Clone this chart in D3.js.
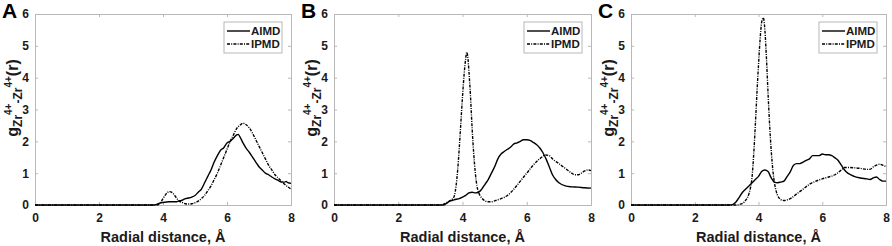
<!DOCTYPE html>
<html>
<head>
<meta charset="utf-8">
<script src="https://cdn.jsdelivr.net/npm/d3@7"></script>
<style>
  body { margin: 0; background: #fff; }
  svg { font-family: "Liberation Sans", Arial, sans-serif; font-weight: bold; }
</style>
</head>
<body>
<svg id="chart" width="892" height="246"></svg>
<script>
// radial distance r (Å) and g(r), as [r, g] pairs
var xTicks = [0, 2, 4, 6, 8];
var yTicks = [0, 1, 2, 3, 4, 5, 6];
var seriesNames = ["AIMD", "IPMD"];
var panelLabels = ["A", "B", "C"];

var aimdA = [[0,0],[3.7,0],[3.8,0.02],[3.9,0.06],[4.0,0.08],[4.2,0.1],[4.4,0.1],[4.5,0.13],[4.6,0.15],
  [4.7,0.2],[4.8,0.22],[4.9,0.25],[5.0,0.3],[5.1,0.4],[5.2,0.5],[5.3,0.7],[5.4,0.9],[5.5,1.1],[5.6,1.35],
  [5.7,1.55],[5.8,1.72],[5.9,1.8],[6.0,1.95],[6.1,2.0],[6.2,2.1],[6.3,2.2],[6.35,2.22],[6.4,2.15],[6.5,1.95],
  [6.6,1.78],[6.7,1.65],[6.8,1.5],[6.9,1.35],[7.0,1.2],[7.1,1.1],[7.2,1.0],[7.3,0.95],[7.4,0.88],[7.5,0.82],
  [7.6,0.77],[7.7,0.72],[7.8,0.72],[7.85,0.74],[7.9,0.7],[8.0,0.68]];
var ipmdA = [[0,0],[3.8,0],[3.9,0.05],[4.0,0.2],[4.1,0.35],[4.2,0.42],[4.3,0.38],[4.4,0.25],[4.5,0.13],
  [4.6,0.08],[4.7,0.04],[4.8,0.03],[4.9,0.04],[5.0,0.07],[5.1,0.12],[5.2,0.2],[5.3,0.3],[5.4,0.45],[5.5,0.6],
  [5.6,0.8],[5.7,1.0],[5.8,1.25],[5.9,1.5],[6.0,1.75],[6.1,2.0],[6.2,2.2],[6.3,2.4],[6.4,2.5],[6.5,2.57],
  [6.6,2.52],[6.7,2.42],[6.8,2.25],[6.9,2.05],[7.0,1.85],[7.1,1.65],[7.2,1.45],[7.3,1.25],[7.4,1.1],
  [7.5,0.95],[7.6,0.85],[7.7,0.75],[7.8,0.65],[7.9,0.57],[8.0,0.5]];

var aimdB = [[0,0],[3.4,0],[3.5,0.05],[3.6,0.12],[3.7,0.15],[3.8,0.18],[3.9,0.2],[4.0,0.25],[4.1,0.3],
  [4.2,0.38],[4.3,0.4],[4.4,0.38],[4.5,0.4],[4.6,0.5],[4.7,0.65],[4.8,0.8],[4.9,1.0],[5.0,1.2],[5.1,1.45],
  [5.2,1.6],[5.3,1.68],[5.4,1.75],[5.5,1.82],[5.6,1.92],[5.7,1.95],[5.8,2.0],[5.9,2.05],[6.0,2.05],[6.1,2.03],
  [6.2,1.97],[6.3,1.9],[6.4,1.8],[6.5,1.65],[6.6,1.45],[6.7,1.2],[6.8,0.95],[6.9,0.8],[7.0,0.7],[7.2,0.6],
  [7.4,0.57],[7.6,0.56],[7.8,0.54],[8.0,0.53]];
var ipmdB = [[0,0],[3.3,0],[3.4,0.02],[3.5,0.07],[3.6,0.13],[3.7,0.2],[3.75,0.3],[3.8,0.6],[3.85,1.1],
  [3.9,1.8],[3.95,2.6],[4.0,3.4],[4.05,4.1],[4.1,4.6],[4.13,4.8],[4.17,4.6],[4.2,4.2],[4.25,3.4],[4.3,2.4],
  [4.35,1.6],[4.4,1.0],[4.45,0.6],[4.5,0.4],[4.6,0.22],[4.7,0.13],[4.8,0.1],[4.9,0.1],[5.0,0.13],[5.2,0.2],
  [5.4,0.3],[5.6,0.5],[5.8,0.75],[6.0,1.0],[6.2,1.25],[6.4,1.45],[6.6,1.57],[6.7,1.55],[6.8,1.45],[7.0,1.3],
  [7.2,1.15],[7.4,1.0],[7.5,0.95],[7.6,0.95],[7.7,1.0],[7.8,1.07],[7.9,1.1],[8.0,1.08]];

var aimdC = [[0,0],[3.1,0],[3.2,0.02],[3.3,0.1],[3.4,0.25],[3.5,0.4],[3.6,0.5],[3.7,0.6],[3.8,0.7],
  [3.9,0.8],[4.0,0.9],[4.1,1.05],[4.2,1.1],[4.3,1.05],[4.4,0.85],[4.5,0.72],[4.6,0.7],[4.7,0.72],[4.8,0.75],
  [4.9,0.9],[5.0,1.05],[5.1,1.25],[5.2,1.3],[5.3,1.3],[5.4,1.35],[5.5,1.4],[5.6,1.45],[5.7,1.55],[5.8,1.55],
  [5.9,1.55],[6.0,1.6],[6.1,1.58],[6.2,1.58],[6.3,1.55],[6.4,1.48],[6.5,1.4],[6.6,1.25],[6.7,1.1],[6.8,1.0],
  [6.9,0.95],[7.0,0.9],[7.2,0.85],[7.4,0.82],[7.5,0.8],[7.6,0.85],[7.7,0.88],[7.8,0.8],[7.9,0.75],[8.0,0.75]];
var ipmdC = [[0,0],[3.3,0],[3.4,0.02],[3.5,0.05],[3.6,0.15],[3.7,0.35],[3.75,0.55],[3.8,0.9],[3.85,1.6],
  [3.9,2.5],[3.95,3.5],[4.0,4.4],[4.05,5.2],[4.1,5.75],[4.15,5.88],[4.2,5.5],[4.25,4.6],[4.3,3.5],[4.35,2.5],
  [4.4,1.7],[4.45,1.1],[4.5,0.7],[4.55,0.45],[4.6,0.3],[4.7,0.17],[4.8,0.14],[4.9,0.16],[5.0,0.2],[5.2,0.35],
  [5.4,0.5],[5.6,0.65],[5.8,0.75],[6.0,0.82],[6.2,0.88],[6.4,0.95],[6.6,1.1],[6.7,1.18],[6.8,1.18],[7.0,1.17],
  [7.2,1.15],[7.4,1.12],[7.5,1.12],[7.6,1.2],[7.7,1.25],[7.8,1.28],[7.9,1.25],[8.0,1.2]];

var panels = [
  { label: panelLabels[0], left: 35,  right: 291, aimd: aimdA, ipmd: ipmdA },
  { label: panelLabels[1], left: 334, right: 591, aimd: aimdB, ipmd: ipmdB },
  { label: panelLabels[2], left: 631, right: 886, aimd: aimdC, ipmd: ipmdC }
];

var plotTop = 14, plotBottom = 205;
var frame = "#b8b8b8", ink = "#1a1a1a";
var dashDot = "3,1.2,1,1.2";

var svg = d3.select("#chart");

panels.forEach(function(p) {
  var x = d3.scaleLinear().domain([0, 8]).range([p.left, p.right]);
  var y = d3.scaleLinear().domain([0, 6]).range([plotBottom, plotTop]);
  var g = svg.append("g");

  // axes with inward ticks, MATLAB style box
  var ax = g.append("g").attr("transform", "translate(0," + plotBottom + ")")
    .call(d3.axisBottom(x).tickValues(xTicks).tickSize(-3).tickPadding(8).tickFormat(d3.format("d")));
  var axTop = g.append("g").attr("transform", "translate(0," + plotTop + ")")
    .call(d3.axisTop(x).tickValues(xTicks).tickSize(-3).tickFormat(""));
  var ay = g.append("g").attr("transform", "translate(" + p.left + ",0)")
    .call(d3.axisLeft(y).tickValues(yTicks).tickSize(-3).tickPadding(6).tickFormat(d3.format("d")));
  var ayR = g.append("g").attr("transform", "translate(" + p.right + ",0)")
    .call(d3.axisRight(y).tickValues(yTicks).tickSize(-3).tickFormat(""));
  [ax, axTop, ay, ayR].forEach(function(a) {
    a.select(".domain").attr("stroke", frame).attr("stroke-width", 1);
    a.selectAll(".tick line").attr("stroke", frame);
    a.selectAll(".tick text").attr("fill", ink).style("font-size", "12px").style("font-weight", "bold")
      .style("font-family", "'Liberation Sans', Arial, sans-serif");
  });

  var line = d3.line()
    .x(function(d) { return x(d[0]); })
    .y(function(d) { return y(d[1]); })
    .curve(d3.curveMonotoneX);

  g.append("path").datum(p.ipmd).attr("d", line)
    .attr("fill", "none").attr("stroke", "#000").attr("stroke-width", 1.4)
    .attr("stroke-dasharray", dashDot);
  g.append("path").datum(p.aimd).attr("d", line)
    .attr("fill", "none").attr("stroke", "#000").attr("stroke-width", 1.4);

  // legend
  var lx = p.right - 67, ly = plotTop + 8;
  var leg = g.append("g").attr("transform", "translate(" + lx + "," + ly + ")");
  leg.append("rect").attr("width", 58).attr("height", 31)
    .attr("fill", "#fff").attr("stroke", frame);
  seriesNames.forEach(function(name, i) {
    var yy = 9 + i * 13;
    leg.append("line").attr("x1", 3).attr("x2", 26).attr("y1", yy).attr("y2", yy)
      .attr("stroke", "#000").attr("stroke-width", 1.4)
      .attr("stroke-dasharray", i === 1 ? dashDot : null);
    leg.append("text").attr("x", 27).attr("y", yy + 4).attr("fill", ink)
      .style("font-size", "11.5px").text(name);
  });

  // x label
  g.append("text").attr("x", (p.left + p.right) / 2).attr("y", 242)
    .attr("text-anchor", "middle").attr("fill", ink).style("font-size", "14.5px")
    .text("Radial distance, Å");

  // y label
  var yl = g.append("text")
    .attr("transform", "translate(" + (p.left - 17) + ",98) rotate(-90)")
    .attr("text-anchor", "middle").attr("fill", ink).style("font-size", "16px");
  yl.append("tspan").text("g");
  yl.append("tspan").attr("dy", 4).style("font-size", "12px").text("Zr");
  yl.append("tspan").attr("dy", -10).style("font-size", "10px").text("4+");
  yl.append("tspan").attr("dy", 10).style("font-size", "12px").text("-Zr");
  yl.append("tspan").attr("dy", -10).style("font-size", "10px").text("4+");
  yl.append("tspan").attr("dy", 6).text("(r)");

  // panel letter
  g.append("text").attr("x", p.left - 33).attr("y", 18)
    .attr("fill", "#000").style("font-size", "21px").text(p.label);
});
</script>
</body>
</html>
